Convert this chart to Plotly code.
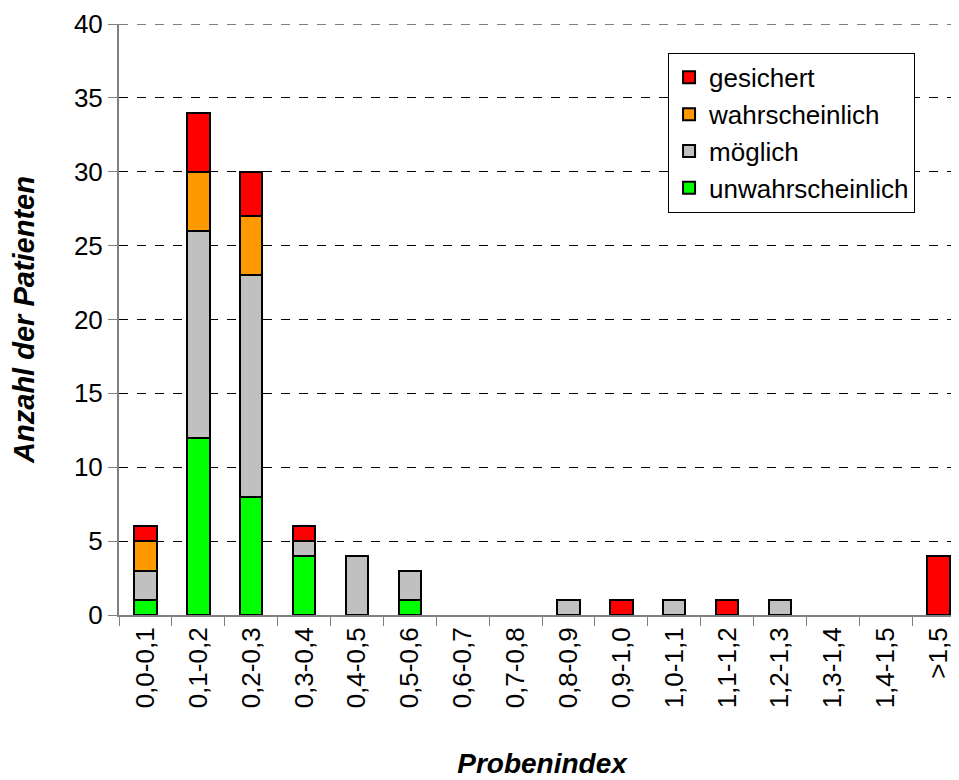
import plotly.graph_objects as go

categories = ["0,0-0,1", "0,1-0,2", "0,2-0,3", "0,3-0,4", "0,4-0,5", "0,5-0,6",
              "0,6-0,7", "0,7-0,8", "0,8-0,9", "0,9-1,0", "1,0-1,1", "1,1-1,2",
              "1,2-1,3", "1,3-1,4", "1,4-1,5", ">1,5"]
unwahrscheinlich = [1, 12, 8, 4, 0, 1, 0, 0, 0, 0, 0, 0, 0, 0, 0, 0]
moeglich = [2, 14, 15, 1, 4, 2, 0, 0, 1, 0, 1, 0, 1, 0, 0, 0]
wahrscheinlich = [2, 4, 4, 0, 0, 0, 0, 0, 0, 0, 0, 0, 0, 0, 0, 0]
gesichert = [1, 4, 3, 1, 0, 0, 0, 0, 0, 1, 0, 1, 0, 0, 0, 4]
y_ticks = [0, 5, 10, 15, 20, 25, 30, 35, 40]

series = [
    ("unwahrscheinlich", unwahrscheinlich, "#00FF00"),
    ("möglich", moeglich, "#C0C0C0"),
    ("wahrscheinlich", wahrscheinlich, "#FF9900"),
    ("gesichert", gesichert, "#FF0000"),
]

fig = go.Figure()
for name, vals, col in series:
    fig.add_trace(go.Bar(
        x=categories, y=[v if v else None for v in vals], name=name,
        marker=dict(color=col, line=dict(color="black", width=2)),
    ))

# dashed gridline at the top of the value axis (edge gridline)
fig.add_hline(y=y_ticks[-1], line=dict(color="black", width=1, dash="dash"), layer="below")

font = "Liberation Sans, Arial, sans-serif"
fig.update_layout(
    barmode="stack",
    bargap=0.574,
    width=959, height=780,
    margin=dict(l=111, r=2, t=16, b=173, autoexpand=False),
    paper_bgcolor="white", plot_bgcolor="white",
    font=dict(family=font, size=26, color="black"),
    showlegend=True,
    legend=dict(
        traceorder="reversed",
        x=0.649, y=0.951, xanchor="left", yanchor="top",
        bordercolor="black", borderwidth=1, bgcolor="white",
        font=dict(size=26), itemsizing="constant",
        itemwidth=30,
    ),
    xaxis=dict(
        type="category",
        title=dict(text="<b><i>Probenindex</i></b>", font=dict(size=28), standoff=46),
        tickangle=-90,
        tickson="boundaries",
        tickfont=dict(size=26),
        ticks="outside", ticklen=9, tickcolor="#808080",
        showline=True, linecolor="#808080", linewidth=2,
        showgrid=False, automargin=False,
        range=[-0.5, 15.5],
    ),
    yaxis=dict(
        title=dict(text="<b><i>Anzahl der Patienten</i></b>", font=dict(size=29), standoff=34),
        range=[0, 40],
        tickvals=y_ticks,
        tickfont=dict(size=26),
        ticklabeloverflow="allow",
        ticks="outside", ticklen=9, tickcolor="#808080",
        showline=True, linecolor="#808080", linewidth=2,
        showgrid=True, gridcolor="black", griddash="dash", gridwidth=1,
        zeroline=False, automargin=False,
    ),
)

fig.write_html("out.html")
